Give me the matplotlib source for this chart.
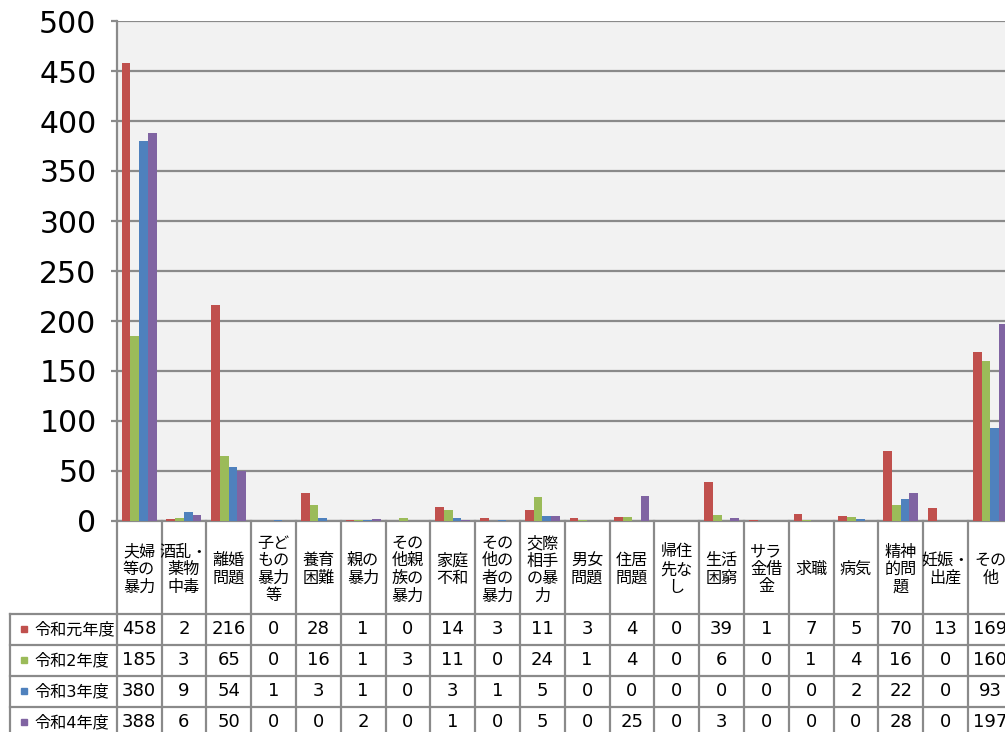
import matplotlib
matplotlib.use("Agg")
import matplotlib.pyplot as plt

plt.rcParams['font.family'] = ['DejaVu Sans', 'Noto Sans CJK JP']

categories = ["夫婦\n等の\n暴力", "酒乱・\n薬物\n中毒", "離婚\n問題", "子ど\nもの\n暴力\n等",
              "養育\n困難", "親の\n暴力", "その\n他親\n族の\n暴力", "家庭\n不和",
              "その\n他の\n者の\n暴力", "交際\n相手\nの暴\n力", "男女\n問題", "住居\n問題",
              "帰住\n先な\nし", "生活\n困窮", "サラ\n金借\n金", "求職", "病気",
              "精神\n的問\n題", "妊娠・\n出産", "その\n他"]
years = ["令和元年度", "令和2年度", "令和3年度", "令和4年度"]
r1 = [458, 2, 216, 0, 28, 1, 0, 14, 3, 11, 3, 4, 0, 39, 1, 7, 5, 70, 13, 169]
r2 = [185, 3, 65, 0, 16, 1, 3, 11, 0, 24, 1, 4, 0, 6, 0, 1, 4, 16, 0, 160]
r3 = [380, 9, 54, 1, 3, 1, 0, 3, 1, 5, 0, 0, 0, 0, 0, 0, 2, 22, 0, 93]
r4 = [388, 6, 50, 0, 0, 2, 0, 1, 0, 5, 0, 25, 0, 3, 0, 0, 0, 28, 0, 197]
series = [r1, r2, r3, r4]
colors = ["#C0504D", "#9BBB59", "#4F81BD", "#8064A2"]

W, H = 1005, 732
grey = "#8A8A8A"

fig = plt.figure(figsize=(W / 100, H / 100), dpi=100)

# layout in pixels
col_w = 44.8
plot_left = 116.7
plot_top, plot_bottom = 21, 521
tab_left = 10
head_h = 93
row_h = 30.9
n = len(categories)

ax = fig.add_axes([plot_left / W, (H - plot_bottom) / H, n * col_w / W, (plot_bottom - plot_top) / H])
ax.set_facecolor("#F2F2F2")
x = list(range(n))
bw = 0.195
for k, vals in enumerate(series):
    ax.bar([i + (k - 1.5) * bw for i in x], vals, width=bw, color=colors[k], zorder=3)

ax.set_xlim(-0.5, n - 0.5)
ax.set_ylim(0, 500)
ax.set_yticks(range(0, 501, 50))
ax.set_xticks([])
ax.grid(axis="y", color=grey, linewidth=1.6, zorder=1)
for s in ["top", "right"]:
    ax.spines[s].set_visible(False)
for s in ["left", "bottom"]:
    ax.spines[s].set_color(grey)
    ax.spines[s].set_linewidth(1.6)
ax.tick_params(axis="y", length=4.5, width=1.6, color=grey, labelsize=21.5, pad=10)

# data table under the chart
tab_h = head_h + 4 * row_h
tax = fig.add_axes([tab_left / W, (H - plot_bottom - tab_h) / H,
                    (plot_left + n * col_w - tab_left) / W, tab_h / H])
xmin = -0.5 - (plot_left - tab_left) / col_w
tax.set_xlim(xmin, n - 0.5)
tax.set_ylim(tab_h, 0)
tax.axis("off")

for i in range(n + 1):
    tax.plot([i - 0.5, i - 0.5], [0, tab_h], color=grey, lw=1.6, clip_on=False)
tax.plot([xmin, xmin], [head_h, tab_h], color=grey, lw=1.6, clip_on=False)
for k in range(5):
    yy = head_h + k * row_h
    tax.plot([xmin, n - 0.5], [yy, yy], color=grey, lw=1.6, clip_on=False)

for i, lab in enumerate(categories):
    tax.text(i, head_h / 2 + 2, lab, ha="center", va="center", fontsize=11.6, linespacing=1.2)

for k, vals in enumerate(series):
    yc = head_h + (k + 0.5) * row_h
    tax.plot([xmin + 13.5 / col_w], [yc], marker="s", markersize=5, color=colors[k], clip_on=False)
    tax.text(xmin + 24 / col_w, yc, years[k], ha="left", va="center", fontsize=11.6)
    for i, v in enumerate(vals):
        tax.text(i, yc, str(v), ha="center", va="center", fontsize=13)

fig.savefig("out.png", dpi=100)
